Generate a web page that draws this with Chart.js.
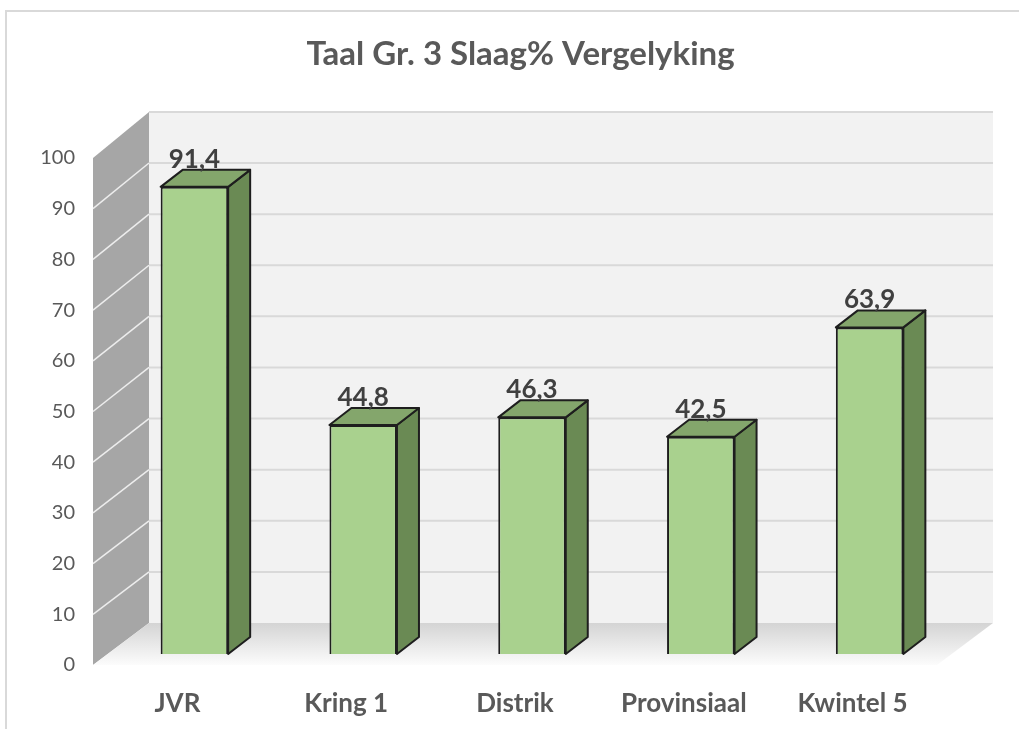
<!DOCTYPE html>
<html>
<head>
<meta charset="utf-8">
<script src="https://cdn.jsdelivr.net/npm/chart.js@4"></script>
<style>
  body { margin: 0; background: #fff; }
</style>
</head>
<body>
<canvas id="chart" width="1019" height="729"></canvas>
<script>
const categories = ['JVR', 'Kring 1', 'Distrik', 'Provinsiaal', 'Kwintel 5'];
const values = [91.4, 44.8, 46.3, 42.5, 63.9];
const yMin = 0;
const yMax = 100;
const yStep = 10;

// fake 3d: wall depth, bar shift into the box, bar depth
const wall = { dx: 56, dy: -42 };
const shift = { x: 17, y: -11 };
const face = { x: 22, y: -17 };

const fmt = v => v.toFixed(1).replace('.', ',');

const box3d = {
  id: 'box3d',
  beforeDraw(chart) {
    const ctx = chart.ctx;
    ctx.save();
    ctx.strokeStyle = '#D9D9D9';
    ctx.lineWidth = 2;
    ctx.beginPath();
    ctx.moveTo(6, chart.height);
    ctx.lineTo(6, 11);
    ctx.lineTo(chart.width, 11);
    ctx.stroke();
    ctx.restore();
  },
  beforeDatasetsDraw(chart) {
    const ctx = chart.ctx;
    const a = chart.chartArea;
    const y = chart.scales.y;
    const yb = chart.scales.yb;
    const front = v => y.getPixelForValue(v);
    const back = v => yb.getPixelForValue(v) + wall.dy;
    const bl = a.left + wall.dx, br = a.right + wall.dx;

    ctx.save();
    // back wall
    ctx.fillStyle = '#F2F2F2';
    ctx.fillRect(bl, back(yMax), br - bl, back(yMin) - back(yMax));
    ctx.strokeStyle = '#D9D9D9';
    ctx.lineWidth = 2;
    for (let v = yMin + yStep; v <= yMax; v += yStep) {
      ctx.beginPath();
      ctx.moveTo(bl, back(v));
      ctx.lineTo(br, back(v));
      ctx.stroke();
    }
    // left wall
    ctx.fillStyle = '#A6A6A6';
    ctx.beginPath();
    ctx.moveTo(a.left, front(yMin));
    ctx.lineTo(a.left, front(yMax));
    ctx.lineTo(bl, back(yMax));
    ctx.lineTo(bl, back(yMin));
    ctx.closePath();
    ctx.fill();
    ctx.strokeStyle = 'rgba(240,240,240,0.95)';
    ctx.lineWidth = 1.5;
    for (let v = yMin + yStep; v < yMax; v += yStep) {
      ctx.beginPath();
      ctx.moveTo(a.left, front(v));
      ctx.lineTo(bl, back(v));
      ctx.stroke();
    }
    // floor
    const g = ctx.createLinearGradient(0, back(yMin), 0, front(yMin));
    g.addColorStop(0, '#D4D4D4');
    g.addColorStop(1, '#FCFCFC');
    ctx.fillStyle = g;
    ctx.beginPath();
    ctx.moveTo(a.left, front(yMin));
    ctx.lineTo(bl, back(yMin));
    ctx.lineTo(br, back(yMin));
    ctx.lineTo(a.right, front(yMin));
    ctx.closePath();
    ctx.fill();
    ctx.restore();

    ctx.save();
    ctx.translate(shift.x, shift.y);
  },
  afterDatasetsDraw(chart) {
    const ctx = chart.ctx;
    const bars = chart.getDatasetMeta(0).data;
    ctx.strokeStyle = '#1E1E1E';
    ctx.lineWidth = 2;
    ctx.lineJoin = 'round';
    bars.forEach(b => {
      const p = b.getProps(['x', 'y', 'base', 'width'], true);
      const l = p.x - p.width / 2, r = p.x + p.width / 2;
      ctx.fillStyle = '#6A8A54';
      ctx.beginPath();
      ctx.moveTo(r, p.y);
      ctx.lineTo(r + face.x, p.y + face.y);
      ctx.lineTo(r + face.x, p.base + face.y);
      ctx.lineTo(r, p.base);
      ctx.closePath();
      ctx.fill();
      ctx.stroke();
      ctx.fillStyle = '#84A66C';
      ctx.beginPath();
      ctx.moveTo(l, p.y);
      ctx.lineTo(l + face.x, p.y + face.y);
      ctx.lineTo(r + face.x, p.y + face.y);
      ctx.lineTo(r, p.y);
      ctx.closePath();
      ctx.fill();
      ctx.stroke();
    });
    ctx.fillStyle = '#404040';
    ctx.font = 'bold 26px Lato';
    ctx.textAlign = 'center';
    ctx.textBaseline = 'alphabetic';
    bars.forEach((b, i) => {
      const p = b.getProps(['x', 'y'], true);
      ctx.fillText(fmt(values[i]), p.x, p.y - 19);
    });
    ctx.restore();
  }
};

new Chart(document.getElementById('chart'), {
  type: 'bar',
  data: {
    labels: categories,
    datasets: [{
      data: values,
      yAxisID: 'yb',
      backgroundColor: '#A9D18E',
      borderColor: '#1E1E1E',
      borderWidth: 2,
      barPercentage: 0.4,
      categoryPercentage: 1
    }]
  },
  options: {
    responsive: false,
    animation: false,
    layout: { padding: { top: 0, right: 0, bottom: 0, left: 22 } },
    plugins: {
      legend: { display: false },
      tooltip: { enabled: false },
      title: {
        display: true,
        text: 'Taal Gr. 3 Slaag% Vergelyking',
        color: '#595959',
        font: { family: 'Lato', size: 33, weight: 'bold' },
        padding: { top: 35, bottom: 83.4 }
      }
    },
    scales: {
      x: {
        grid: { display: false },
        border: { display: false },
        ticks: { color: '#595959', font: { family: 'Lato', size: 26, weight: 'bold' }, padding: 15 },
        afterFit: s => { s.height = 64; }
      },
      y: {
        position: 'left',
        min: yMin,
        max: yMax,
        grid: { display: false },
        border: { display: false },
        ticks: { stepSize: yStep, color: '#595959', font: { family: 'Lato', size: 20 }, padding: 10 },
        afterFit: s => { s.width = 71; }
      },
      yb: {
        position: 'right',
        min: yMin,
        max: 99.2,
        grid: { display: false },
        border: { display: false },
        ticks: { display: false },
        afterFit: s => { s.width = 82; }
      }
    }
  },
  plugins: [box3d]
});
</script>
</body>
</html>
